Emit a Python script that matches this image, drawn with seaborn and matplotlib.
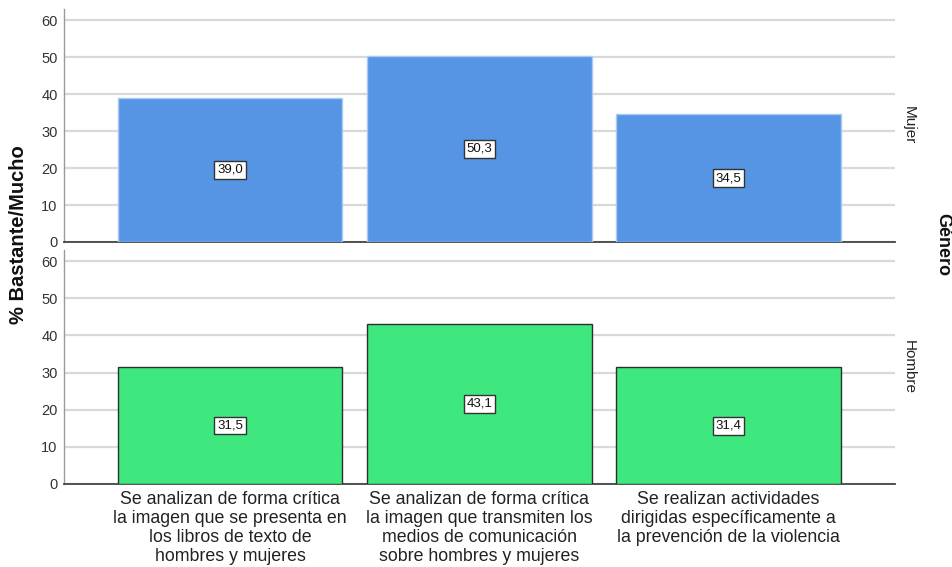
import matplotlib
matplotlib.use("Agg")
import matplotlib.pyplot as plt
import seaborn as sns
import pandas as pd

# Survey items (x categories)
categorias = [
    "Se analizan de forma crítica\nla imagen que se presenta en\nlos libros de texto de\nhombres y mujeres",
    "Se analizan de forma crítica\nla imagen que transmiten los\nmedios de comunicación\nsobre hombres y mujeres",
    "Se realizan actividades\ndirigidas específicamente a\nla prevención de la violencia",
]
generos = ["Mujer", "Hombre"]
valores_mujer = [39.0, 50.3, 34.5]
valores_hombre = [31.5, 43.1, 31.4]
y_ticks = [0, 10, 20, 30, 40, 50, 60]

df = pd.DataFrame({
    "categoria": categorias * 2,
    "genero": ["Mujer"] * 3 + ["Hombre"] * 3,
    "valor": valores_mujer + valores_hombre,
})

colores = {"Mujer": "#5595E4", "Hombre": "#3FE77F"}
bordes = {"Mujer": "#A9CBF2", "Hombre": "#2E2E2E"}

sns.set_theme(style="white")
plt.rcParams["font.family"] = ["Liberation Sans", "DejaVu Sans"]

fig = plt.figure(figsize=(9.52, 5.67), dpi=100)
ax_top = fig.add_axes([0.0672, 0.5732, 0.8728, 0.411])
ax_bot = fig.add_axes([0.0672, 0.1464, 0.8728, 0.4127])

for ax, g in zip([ax_top, ax_bot], generos):
    sub = df[df["genero"] == g]
    sns.barplot(data=sub, x="categoria", y="valor", order=categorias,
                color=colores[g], edgecolor=bordes[g], linewidth=1.0,
                width=0.9, saturation=1, ax=ax, zorder=3)
    ax.set_xlim(-0.667, 2.667)
    ax.set_ylim(0, 63)
    ax.set_yticks(y_ticks)
    ax.yaxis.grid(True, color="#D9D9D9", linewidth=1.6, zorder=0)
    ax.set_axisbelow(True)
    ax.set_xlabel("")
    ax.set_ylabel("")
    ax.tick_params(axis="y", length=0, labelsize=10.5, labelcolor="#333333", pad=4.5)
    ax.tick_params(axis="x", length=0)
    for s in ["top", "right"]:
        ax.spines[s].set_visible(False)
    ax.spines["left"].set_color("#9A9A9A")
    ax.spines["left"].set_linewidth(1.0)
    ax.spines["bottom"].set_color("#444444")
    ax.spines["bottom"].set_linewidth(1.3)
    for i, v in enumerate(sub["valor"].tolist()):
        ax.text(i, v / 2, f"{v:.1f}".replace(".", ","), ha="center", va="center",
                fontsize=9.5, color="#111111", zorder=5,
                bbox=dict(boxstyle="square,pad=0.22", facecolor="white",
                          edgecolor="#333333", linewidth=1.0))
    ax.text(1.008, 0.5, g, transform=ax.transAxes,
            rotation=-90, ha="left", va="center", fontsize=11, color="#222222")

ax_top.set_xticklabels([])
ax_bot.set_xticks(range(len(categorias)))
ax_bot.set_xticklabels(categorias, fontsize=12.8, color="#222222", linespacing=1.15)
ax_bot.tick_params(axis="x", pad=5)

fig.text(0.019, 0.5855, "% Bastante/Mucho", rotation=90, ha="center", va="center",
         fontsize=14.5, fontweight="bold", color="#111111")
fig.text(0.99, 0.568, "Género", rotation=-90, ha="center", va="center",
         fontsize=13, fontweight="bold", color="#111111")

fig.savefig("out.png", dpi=100)
